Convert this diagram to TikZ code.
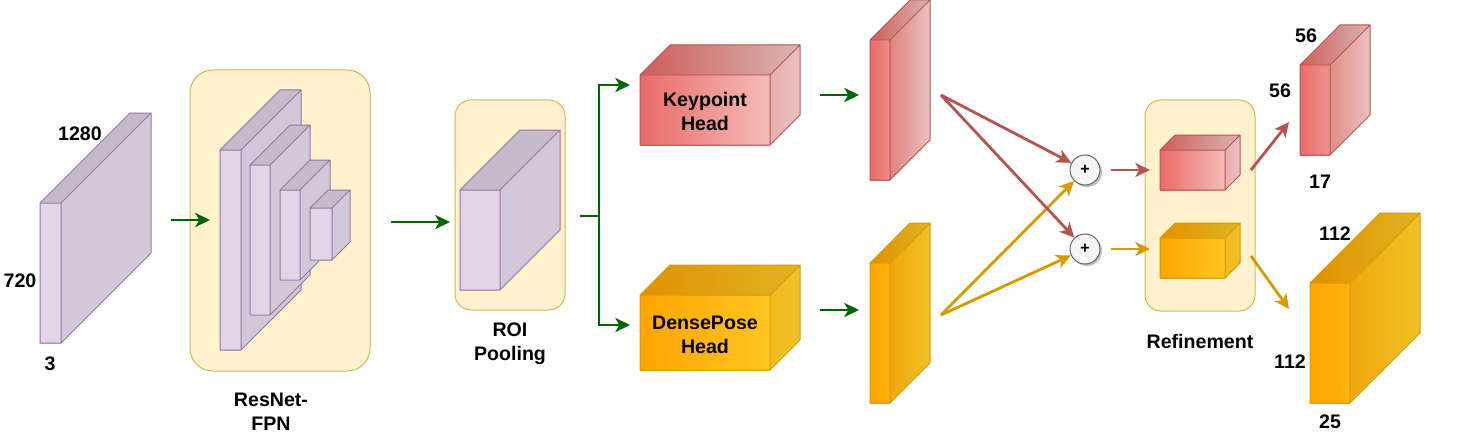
\documentclass[tikz,border=0pt]{standalone}
\usepackage{fontspec}
\setmainfont{Liberation Sans}
\usetikzlibrary{arrows.meta,shadows,fit,calc}
\definecolor{dgreen}{HTML}{006600}
\definecolor{redS}{HTML}{B85450}
\definecolor{redA}{HTML}{EA6B66}
\definecolor{redB}{HTML}{F8CECC}
\definecolor{orS}{HTML}{D79B00}
\definecolor{orA}{HTML}{FFA500}
\definecolor{orB}{HTML}{FFCD28}
\definecolor{puF}{HTML}{E1D5E7}
\definecolor{puS}{HTML}{9673A6}
\definecolor{grpF}{HTML}{FFF2CC}
\definecolor{grpS}{HTML}{D6B656}
\definecolor{plF}{HTML}{F5F5F5}
\definecolor{plS}{HTML}{666666}
% #1 name, #2 x1, #3 y1(top), #4 x2, #5 y2(bottom), #6 depth, #7 colour left, #8 colour right, #9 stroke
\newcommand{\cuboid}[9]{%
  \pgfmathsetmacro\cubT{100*(#4-#2)/(#4-#2+#6)}%
  \colorlet{cubM}{#8!\cubT!#7}%
  \shade[left color=#7!88!black,right color=#8!88!black]
     (#2,#3) -- ({#2+#6},{#3-#6}) -- ({#4+#6},{#3-#6}) -- (#4,#3) -- cycle;
  \shade[left color=cubM!94!black,right color=#8!94!black]
     (#4,#3) -- ({#4+#6},{#3-#6}) -- ({#4+#6},{#5-#6}) -- (#4,#5) -- cycle;
  \shade[left color=#7,right color=cubM] (#2,#3) rectangle (#4,#5);
  \draw[#9,line width=0.75pt,line join=round]
     (#2,#3) -- ({#2+#6},{#3-#6}) -- ({#4+#6},{#3-#6}) -- ({#4+#6},{#5-#6}) -- (#4,#5) -- (#2,#5) -- cycle
     (#2,#3) -- (#4,#3) -- ({#4+#6},{#3-#6}) (#4,#3) -- (#4,#5);
  \path (#2,#3) coordinate (#1-tl) (#4,#5) coordinate (#1-br);
  \node[fit=(#1-tl)(#1-br),inner sep=0pt] (#1) {};
}
\tikzset{
  lbl/.style={font=\bfseries\fontsize{14.7}{17.5}\selectfont,inner sep=0pt,anchor=base,align=center},
  tipA/.style={-{Stealth[length=11pt,width=10.5pt,inset=3pt]}},
  garrow/.style={draw=dgreen,line width=2.1pt,tipA},
  rarrow/.style={draw=redS,line width=2.1pt,tipA},
  oarrow/.style={draw=orS,line width=2.1pt,tipA},
  grp/.style={draw=grpS,fill=grpF,line width=0.75pt,rounded corners=#1},
  grp/.default=12pt,
  plusnode/.style={circle,draw=plS,fill=plF,line width=0.75pt,minimum size=22.5pt,inner sep=0pt,
     font=\bfseries\fontsize{12}{14}\selectfont,
     drop shadow={shadow xshift=1.5pt,shadow yshift=-1.5pt,fill=black,opacity=0.25}},
}
\begin{document}
\begin{tikzpicture}[x=0.75pt,y=-0.75pt]
\useasboundingbox (0,0) rectangle (1481,435);
% group boxes
\node[grp=17pt,fit={(190,70)(370,371)},inner sep=0pt] (resnetbox) {};
\node[grp,fit={(455,100)(565,310)},inner sep=0pt] (roibox) {};
\node[grp,fit={(1145,100)(1255,311)},inner sep=0pt] (refbox) {};
% input
\cuboid{inp}{40}{203}{61}{343}{90}{puF}{puF}{puS}
\node[lbl] (l1280) at (80,140) {1280};
\node[lbl] (l720) at (20,287) {720};
\node[lbl] (l3) at (50,370) {3};
% resnet-fpn
\cuboid{fp1}{220}{150}{241}{350}{60}{puF}{puF}{puS}
\cuboid{fp2}{250}{165}{270}{315}{40}{puF}{puF}{puS}
\cuboid{fp3}{280}{190}{300}{280}{30}{puF}{puF}{puS}
\cuboid{fp4}{310}{208}{332}{260}{18}{puF}{puF}{puS}
\node[lbl] (lres) at (271,430) {ResNet-\\FPN};
% roi
\cuboid{roi}{460}{190}{500}{290}{60}{puF}{puF}{puS}
\node[lbl] (lroi) at (510,360) {ROI\\Pooling};
% heads
\cuboid{kh}{640}{75}{770}{145}{30}{redA}{redB}{redS}
\node[lbl] (lkh) at (705,130) {Keypoint\\Head};
\cuboid{dh}{640}{295}{770}{370}{30}{orA}{orB}{orS}
\node[lbl] (ldh) at (705,353) {DensePose\\Head};
% feature maps
\cuboid{rf}{870}{40}{890}{180}{40}{redA}{redB}{redS}
\cuboid{of}{870}{263}{890}{403}{40}{orA}{orB}{orS}
% plus
\node[plusnode] (plus1) at (1085,170) {+};
\node[plusnode] (plus2) at (1085,249) {+};
% refinement
\cuboid{rr}{1160}{150}{1225}{190}{15}{redA}{redB}{redS}
\cuboid{or}{1160}{238}{1225}{278}{15}{orA}{orB}{orS}
\node[lbl] (lref) at (1200,348) {Refinement};
% outputs
\cuboid{ro}{1300}{65}{1330}{155}{40}{redA}{redB}{redS}
\node[lbl] (l56a) at (1306,43) {56};
\node[lbl] (l56b) at (1280,98) {56};
\node[lbl] (l17) at (1320,188) {17};
\cuboid{oo}{1310}{283}{1350}{403}{70}{orA}{orB}{orS}
\node[lbl] (l112a) at (1335,240) {112};
\node[lbl] (l112b) at (1290,368) {112};
\node[lbl] (l25) at (1330,428) {25};
% connector coordinates
\coordinate (a1s) at (171,220); \coordinate (a1e) at (210,220);
\coordinate (a2s) at (391,222); \coordinate (a2e) at (450,222);
\coordinate (b0) at (580,216); \coordinate (bj) at (599,216);
\coordinate (bk) at (630,85); \coordinate (bd) at (630,325);
\coordinate (a3s) at (820,95); \coordinate (a3e) at (859,95);
\coordinate (a4s) at (820,310); \coordinate (a4e) at (859,310);
\coordinate (rs) at (941,95); \coordinate (os) at (941,315);
\coordinate (p1s) at (1111,170); \coordinate (p1e) at (1150,170);
\coordinate (p2s) at (1111,249); \coordinate (p2e) at (1150,249);
\coordinate (r1s) at (1251,170); \coordinate (r1e) at (1289,122);
\coordinate (r2s) at (1251,256); \coordinate (r2e) at (1289,309);
% connectors
\draw[garrow] (a1s) -- (a1e);
\draw[garrow] (a2s) -- (a2e);
\draw[dgreen,line width=2.1pt] (b0) -- (bj);
\draw[garrow] (bj) |- (bk);
\draw[garrow] (bj) |- (bd);
\draw[garrow] (a3s) -- (a3e);
\draw[garrow] (a4s) -- (a4e);
\draw[oarrow] (os) -- (plus1);
\draw[oarrow] (os) -- (plus2);
\draw[rarrow] (rs) -- (plus1);
\draw[rarrow] (rs) -- (plus2);
\draw[rarrow] (p1s) -- (p1e);
\draw[oarrow] (p2s) -- (p2e);
\draw[rarrow] (r1s) -- (r1e);
\draw[oarrow] (r2s) -- (r2e);
\end{tikzpicture}
\end{document}
